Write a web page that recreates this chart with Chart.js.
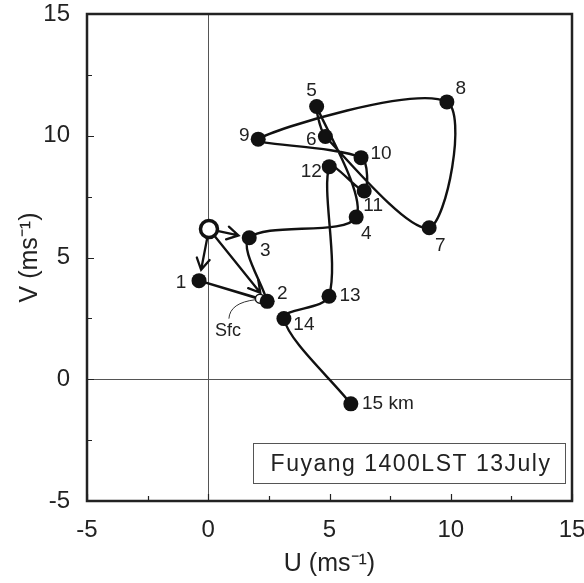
<!DOCTYPE html>
<html>
<head>
<meta charset="utf-8">
<script src="https://cdn.jsdelivr.net/npm/chart.js@4.4.1/dist/chart.umd.min.js"></script>
<style>
  html, body { margin: 0; padding: 0; background: #ffffff; }
  #wrap { width: 584px; height: 583px; }
</style>
</head>
<body>
<div id="wrap"><canvas id="c" width="584" height="583"></canvas></div>
<script>
const levelNames = ['Sfc', '1', '2', '3', '4', '5', '6', '7', '8', '9', '10', '11', '12', '13', '14', '15 km'];
const uWind = [2.13, -0.38, 2.43, 1.69, 6.10, 4.47, 4.83, 9.11, 9.84, 2.06, 6.30, 6.43, 4.99, 4.98, 3.12, 5.88];
const vWind = [3.31, 4.05, 3.20, 5.81, 6.66, 11.20, 9.97, 6.22, 11.39, 9.86, 9.10, 7.73, 8.73, 3.41, 2.49, -1.01];
const stormU = [0.03];
const stormV = [6.17];
const arrowTargets = ['1', '2', '3'];
const axisTicks = [-5, 0, 5, 10, 15];
const minorTicks = [-2.5, 2.5, 7.5, 12.5];
const boxTitle = 'Fuyang 1400LST 13July';

// ---- Styling / label placement (pixels, not data) ----
const FONT = '"Liberation Sans", Arial, Helvetica, sans-serif';
const labelOffsets = {
  '1': [-18, 2], '2': [15, -8], '3': [16, 13], '4': [10, 17], '5': [-5, -16],
  '6': [-14, 3], '7': [11, 18], '8': [14, -13], '9': [-14, -3], '10': [20, -4],
  '11': [9, 15], '12': [-18, 5], '13': [21, 0], '14': [20, 6], '15 km': [37, 0]
};

const pts = uWind.map((u, i) => ({ x: u, y: vWind[i] }));
const idx = name => levelNames.indexOf(name);
const straightPath = pts.slice(0, 3);          // Sfc -> 1 -> 2
const curvedPath = pts.slice(2);               // 2 -> ... -> 15 km
const levelPts = pts.slice(1);
const sfcPt = [pts[0]];
const stormPt = [{ x: stormU[0], y: stormV[0] }];

function noPad(s) { s.paddingLeft = 0; s.paddingRight = 0; s.paddingTop = 0; s.paddingBottom = 0; }

const overlay = {
  id: 'overlay',
  beforeDatasetsDraw(chart) {
    const { ctx, chartArea: a, scales: { x, y } } = chart;
    ctx.save();
    ctx.strokeStyle = '#555';
    ctx.lineWidth = 1;
    const x0 = Math.round(x.getPixelForValue(0)) + 0.5;
    const y0 = Math.round(y.getPixelForValue(0)) + 0.5;
    ctx.beginPath();
    ctx.moveTo(x0, a.top); ctx.lineTo(x0, a.bottom);
    ctx.moveTo(a.left, y0); ctx.lineTo(a.right, y0);
    ctx.stroke();
    const sx = x.getPixelForValue(stormU[0]);
    const sy = y.getPixelForValue(stormV[0]);
    ctx.strokeStyle = '#111';
    ctx.lineWidth = 2.3;
    ctx.lineCap = 'round';
    arrowTargets.forEach(name => {
      const p = pts[idx(name)];
      const tx = x.getPixelForValue(p.x), ty = y.getPixelForValue(p.y);
      const dx = tx - sx, dy = ty - sy, L = Math.hypot(dx, dy);
      const ux = dx / L, uy = dy / L;
      const ex = tx - ux * 11, ey = ty - uy * 11;
      ctx.beginPath();
      ctx.moveTo(sx, sy); ctx.lineTo(ex, ey);
      const ah = 13, ang = Math.PI / 6;
      const bx = -ux, by = -uy;
      const c = Math.cos(ang), s = Math.sin(ang);
      ctx.moveTo(ex + ah * (bx * c - by * s), ey + ah * (bx * s + by * c));
      ctx.lineTo(ex, ey);
      ctx.lineTo(ex + ah * (bx * c + by * s), ey + ah * (-bx * s + by * c));
      ctx.stroke();
    });
    ctx.restore();
  },
  afterDraw(chart) {
    const { ctx, chartArea: a, scales: { x, y } } = chart;
    ctx.save();
    ctx.strokeStyle = '#222';
    ctx.lineWidth = 1.2;
    ctx.beginPath();
    axisTicks.concat(minorTicks).forEach(t => {
      const len = axisTicks.includes(t) ? 7 : 5;
      const px = Math.round(x.getPixelForValue(t)) + 0.5;
      ctx.moveTo(px, a.bottom); ctx.lineTo(px, a.bottom - len);
      const py = Math.round(y.getPixelForValue(t)) + 0.5;
      ctx.moveTo(a.left, py); ctx.lineTo(a.left + len, py);
    });
    ctx.stroke();
    ctx.strokeStyle = '#222';
    ctx.lineWidth = 2.5;
    ctx.strokeRect(a.left, a.top, a.right - a.left, a.bottom - a.top);
    ctx.fillStyle = '#222';
    ctx.font = '19px ' + FONT;
    ctx.textAlign = 'center';
    ctx.textBaseline = 'middle';
    levelNames.forEach((name, i) => {
      if (name === 'Sfc') return;
      const o = labelOffsets[name];
      ctx.fillText(name, x.getPixelForValue(pts[i].x) + o[0], y.getPixelForValue(pts[i].y) + o[1]);
    });
    const spx = x.getPixelForValue(pts[0].x), spy = y.getPixelForValue(pts[0].y);
    ctx.font = '18px ' + FONT;
    ctx.fillText('Sfc', spx - 32, spy + 32);
    ctx.strokeStyle = '#333';
    ctx.lineWidth = 1;
    ctx.beginPath();
    ctx.moveTo(spx - 31, spy + 20);
    ctx.quadraticCurveTo(spx - 30, spy + 4, spx - 4, spy + 1);
    ctx.stroke();
    const bx = a.left + 166, by = a.top + 429, bw = 312, bh = 40;
    ctx.fillStyle = '#fff';
    ctx.fillRect(bx, by, bw, bh);
    ctx.strokeStyle = '#555';
    ctx.lineWidth = 1;
    ctx.strokeRect(bx + 0.5, by + 0.5, bw, bh);
    ctx.fillStyle = '#222';
    ctx.font = '23px ' + FONT;
    ctx.letterSpacing = '1.5px';
    ctx.textAlign = 'left';
    const tw = ctx.measureText(boxTitle).width;
    ctx.fillText(boxTitle, bx + (bw - tw) / 2 + 2, by + bh / 2 + 2);
    ctx.restore();
  }
};

new Chart(document.getElementById('c'), {
  type: 'scatter',
  data: {
    datasets: [
      { label: 'Storm motion', data: stormPt, order: 0, pointRadius: 8.5, pointBorderWidth: 3.5,
        pointBackgroundColor: '#fff', pointBorderColor: '#111', showLine: false },
      { label: 'Levels', data: levelPts, order: 1, pointRadius: 7.5, pointBorderWidth: 0,
        pointBackgroundColor: '#111', pointBorderColor: '#111', showLine: false },
      { label: 'Sfc', data: sfcPt, order: 2, pointRadius: 4.5, pointBorderWidth: 1.5,
        pointBackgroundColor: '#fff', pointBorderColor: '#111', showLine: false },
      { label: 'Hodograph low', data: straightPath, order: 3, showLine: true, tension: 0,
        borderColor: '#111', borderWidth: 2.4, pointRadius: 0 },
      { label: 'Hodograph', data: curvedPath, order: 3, showLine: true, tension: 0.3,
        borderColor: '#111', borderWidth: 2.4, pointRadius: 0 }
    ]
  },
  options: {
    responsive: false,
    animation: false,
    layout: { padding: { top: 14, right: 12, left: 0, bottom: 0 } },
    plugins: { legend: { display: false }, tooltip: { enabled: false } },
    scales: {
      x: {
        type: 'linear', min: -5, max: 15,
        afterFit(s) { s.height = 82; noPad(s); },
        afterBuildTicks(s) { s.ticks = axisTicks.map(v => ({ value: v })); },
        grid: { display: false, drawTicks: false },
        border: { display: false },
        ticks: { color: '#222', font: { family: FONT, size: 24 }, padding: 15, maxRotation: 0 },
        title: { display: true, text: 'U (ms⁻¹)', color: '#222',
                 font: { family: FONT, size: 25 }, padding: { top: 0, bottom: 4 } }
      },
      y: {
        type: 'linear', min: -5, max: 15,
        afterFit(s) { s.width = 87; noPad(s); },
        afterBuildTicks(s) { s.ticks = axisTicks.map(v => ({ value: v })); },
        grid: { display: false, drawTicks: false },
        border: { display: false },
        ticks: { color: '#222', font: { family: FONT, size: 24 }, padding: 17 },
        title: { display: true, text: 'V (ms⁻¹)', color: '#222',
                 font: { family: FONT, size: 25 }, padding: { top: 15, bottom: 0 } }
      }
    }
  },
  plugins: [overlay]
});
</script>
</body>
</html>
